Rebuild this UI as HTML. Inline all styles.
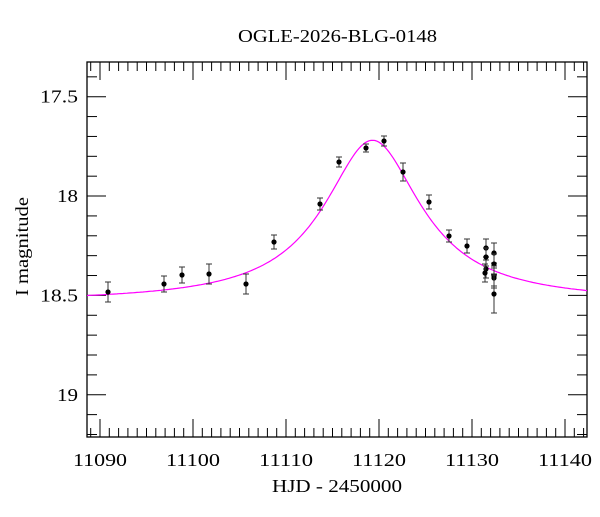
<!DOCTYPE html>
<html><head><style>body{margin:0;background:#fff}svg text{font-family:"Liberation Serif",serif;fill:#000}</style></head>
<body>
<svg id="s" width="600" height="512" xmlns="http://www.w3.org/2000/svg">
<text x="238" y="42" font-size="18" textLength="199" lengthAdjust="spacingAndGlyphs">OGLE-2026-BLG-0148</text>
<text x="272" y="492" font-size="18" textLength="130" lengthAdjust="spacingAndGlyphs">HJD - 2450000</text>
<text transform="translate(28,296) rotate(-90)" font-size="18" textLength="99" lengthAdjust="spacingAndGlyphs">I magnitude</text>
<g id="ax" stroke="#000" stroke-width="1" fill="none"></g>
<g id="lb" font-size="18"></g>
<path id="m" fill="none" stroke="#ff00ff" stroke-width="1.2"/>
<g id="d" stroke="#333" stroke-width="1" fill="#000"></g>
</svg>
<script>
var L=87,R=587,T=62,B=437,ns="http://www.w3.org/2000/svg";
function X(t){return 100+(t-11090)*9.3}
function Y(m){return 96.7+(m-17.5)*198.7}
function el(p,n,a,txt){var e=document.createElementNS(ns,n);for(var k in a)e.setAttribute(k,a[k]);if(txt)e.textContent=txt;document.getElementById(p).appendChild(e);}
el("ax","rect",{x:L,y:T,width:R-L,height:B-T,"stroke-width":1.3});
for(var t=11089;t<=11142;t++){var x=X(t);if(x<L||x>R)continue;var mj=t%10==0,l=mj?18:9;
el("ax","line",{x1:x,y1:B,x2:x,y2:B-l});el("ax","line",{x1:x,y1:T,x2:x,y2:T+l});
if(mj)el("lb","text",{x:x-27,y:466,textLength:54,lengthAdjust:"spacingAndGlyphs"},String(t));}
for(var i=0;i<=20;i++){var m=17.3+i*0.1,y=Y(m);if(y<T||y>B)continue;var mj=Math.abs(m*2-Math.round(m*2))<1e-6,l=mj?19:10;
el("ax","line",{x1:L,y1:y,x2:L+l,y2:y});el("ax","line",{x1:R,y1:y,x2:R-l,y2:y});
if(mj){var s=(Math.round(m*10)/10).toString();var w=s.length==2?21:38;el("lb","text",{x:78-w,y:y+6,textLength:w,lengthAdjust:"spacingAndGlyphs"},s);}}
var d="";for(var x=L;x<=R;x+=2){var t=11088.6+(x-L)/9.3,dt=(t-11119.3)/5.3,f=1+1.12/(1+dt*dt);var mg=18.535-2.5*Math.log10(f);d+=(x==L?"M":"L")+x+","+Y(mg).toFixed(1);}
document.getElementById("m").setAttribute("d",d);
var pts=[[108,292,10],[164,284,8],[182,275,8],[209,274,10],[246,284,10],[274,242,7],[320,204,6],[339,162,5],[366,148,4],[384,141,5],[403,172,9],[429,202,7],[449,236,6],[467,246,7],[486,248,9],[486,257,9],[486,269,9],[485,273,9],[494,253,10],[494,264,10],[494,276,10],[494,278,10],[494,294,19]];
pts.forEach(function(p){el("d","line",{x1:p[0],y1:p[1]-p[2],x2:p[0],y2:p[1]+p[2]});
el("d","line",{x1:p[0]-3,y1:p[1]-p[2],x2:p[0]+3,y2:p[1]-p[2]});el("d","line",{x1:p[0]-3,y1:p[1]+p[2],x2:p[0]+3,y2:p[1]+p[2]});
el("d","circle",{cx:p[0],cy:p[1],r:2.6,stroke:"none"});});
</script>
</body></html>
